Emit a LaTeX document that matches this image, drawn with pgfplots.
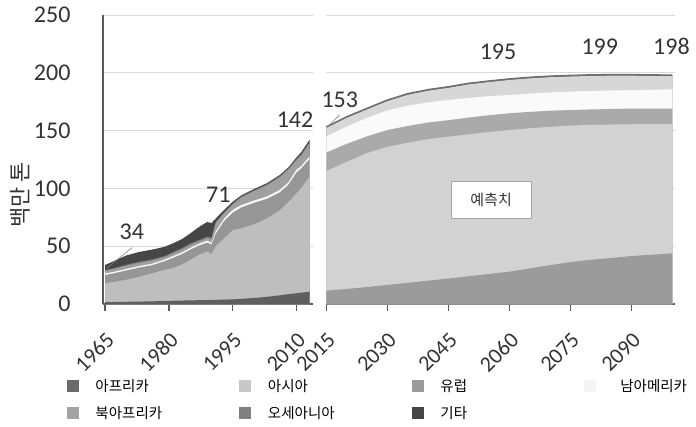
\documentclass[border=0pt]{standalone}
\usepackage{fontspec}
\setmainfont{Carlito}
\newfontfamily\kr{Noto Sans CJK KR}
\usepackage{pgfplots}
\usepackage{pgfplotstable}
\pgfplotsset{compat=1.18}

% cumulative tops of each layer, million tonnes
\pgfplotstableread{
year af as eu sa na oc tot
1965 1.5 18 25 26.3 28.5 29.3 33.7
1967 1.7 19 26.5 27.8 30.2 31 37
1970 1.9 21 29 30.3 33 34 42
1973 2.1 23.5 31.5 32.8 35.5 36.5 45
1976 2.3 26.5 33.5 34.8 37.5 38.5 47
1979 2.6 29.5 37 38.4 40.5 41.5 49.5
1981 2.8 31 40 41.5 43.8 45 52.5
1983 3 34 43 44.5 47 48.2 56
1985 3.1 38 47 48.5 51 52.2 61
1987 3.3 42.5 50.5 52 54 55.3 66.5
1989 3.4 45.5 53 54.8 57 58.3 71
1990 3.5 43 51.5 53 56 57.5 70
1991 3.6 50 61 63 70 71 74
1993 3.8 57 72 74 78.5 79.5 81.5
1995 4 64 79 81.5 86 87 88.5
1997 4.5 65.5 83.5 85.6 92 93 94
2000 5.2 69 87.5 89.5 97.5 98.5 99.5
2003 6.2 74 91 93 102.5 103.5 104.5
2006 7.5 81 96.5 98.6 109.5 110.5 111.5
2008 8.5 88 103 105 116 117 118
2010 9.3 96 114 116.5 124.5 125.5 127
2011 9.8 100 117 119 128 129.3 131
2013 10.5 110 125.5 127.5 138.5 140.3 142
}\histdata

\pgfplotstableread{
year af as eu sa na tot
2015 11.5 115 131 145 152.3 153.3
2020 13 123 138.5 153.5 161 162
2025 14.7 130.5 145 161 168.3 169.3
2030 16.5 136 150.5 167.5 175.5 176.5
2035 18.3 139.5 154 171.5 181 182
2040 20.2 142.5 157 174.5 184.5 185.5
2045 22 144.7 159 176.5 187 188
2050 24 146.8 161.3 178.3 190 191
2055 26 148.8 163.3 179.8 192 193
2060 28 150.5 165 180.8 193.8 194.8
2065 30.8 152 166.2 182 195.2 196.2
2070 33.6 153.3 167.2 183 196.2 197.2
2075 36.3 154.3 167.8 183.7 196.8 197.8
2080 38.2 155 168.3 184.3 197.3 198.3
2085 39.8 155.3 168.7 184.7 197.5 198.5
2090 41.5 155.5 169 185 197.5 198.5
2095 42.7 155.6 169 185.3 197.3 198.3
2100 43.8 155.7 169 185.7 197 198
}\projdata

\definecolor{axisgray}{HTML}{5A5A5A}
\definecolor{gridgray}{HTML}{D9D9D9}
\definecolor{txt}{HTML}{333333}
% historical panel
\definecolor{hAf}{HTML}{5F5F5F}
\definecolor{hAs}{HTML}{BEBEBE}
\definecolor{hEu}{HTML}{969696}
\definecolor{hSa}{HTML}{F8F8F8}
\definecolor{hNa}{HTML}{A0A0A0}
\definecolor{hOc}{HTML}{7D7D7D}
\definecolor{hOt}{HTML}{464646}
% projection panel
\definecolor{pAf}{HTML}{9B9B9B}
\definecolor{pAs}{HTML}{D2D2D2}
\definecolor{pEu}{HTML}{AAAAAA}
\definecolor{pSa}{HTML}{FAFAFA}
\definecolor{pNa}{HTML}{D7D7D7}
\definecolor{pOt}{HTML}{6E6E6E}
% legend
\definecolor{lAf}{HTML}{6B6B6B}
\definecolor{lAs}{HTML}{C8C8C8}
\definecolor{lEu}{HTML}{9A9A9A}
\definecolor{lSa}{HTML}{F4F4F4}
\definecolor{lNa}{HTML}{A3A3A3}
\definecolor{lOc}{HTML}{808080}
\definecolor{lOt}{HTML}{454545}

\tikzset{lbl/.style={font=\fontsize{24}{24}\selectfont, text=txt}}

\pgfplotsset{
  panel/.style={
    scale only axis, height=289pt, ymin=0, ymax=250,
    ytick={0,50,...,250}, ymajorgrids,
    grid style={line width=1pt, gridgray},
    axis lines*=left, axis line style={-, axisgray, line width=1.5pt},
    tick align=outside, major tick length=7pt,
    xtick style={axisgray, line width=1.2pt}, ytick style={draw=none},
    yticklabel style={font=\fontsize{24}{24}\selectfont, text=txt},
    xticklabel style={font=\fontsize{22}{22}\selectfont, text=txt,
      rotate=45, anchor=north east, inner sep=0pt},
    xticklabel shift=20pt,
    /pgf/number format/assume math mode=true,
    /pgf/number format/1000 sep={},
    clip=false,
  },
  lay/.style={draw=none, fill=#1, forget plot},
}

\begin{document}
\begin{tikzpicture}[x=1pt,y=1pt]
\useasboundingbox (0,0) rectangle (696,426);

\begin{axis}[panel, at={(103pt,122pt)}, anchor=south west, width=209.9pt,
  xmin=1964.53, xmax=2013.8, xtick={1965,1980,1995,2010},
  yticklabel style={xshift=-22pt},
  legend columns=4,
  legend cell align=left,
  legend image code/.code={\fill[#1, draw=none] (0pt,-0.5pt) rectangle (12pt,11.5pt);},
  legend style={at={(-0.173,-0.235)}, anchor=north west, draw=none, fill=none,
    inner sep=0pt, column sep=0pt, row sep=0pt,
    font=\kr\fontsize{14.5}{14.5}\selectfont,
    nodes={inner sep=0pt, text height=19pt, text depth=8pt, anchor=base west}}]
\addplot[lay=hOt] table[x=year,y=tot] {\histdata} \closedcycle;
\addplot[lay=hOc] table[x=year,y=oc] {\histdata} \closedcycle;
\addplot[lay=hNa] table[x=year,y=na] {\histdata} \closedcycle;
\addplot[lay=hSa] table[x=year,y=sa] {\histdata} \closedcycle;
\addplot[lay=hEu] table[x=year,y=eu] {\histdata} \closedcycle;
\addplot[lay=hAs] table[x=year,y=as] {\histdata} \closedcycle;
\addplot[lay=hAf] table[x=year,y=af] {\histdata} \closedcycle;

\addlegendimage{fill=lAf}\addlegendentry{\makebox[160.5pt][l]{\hspace{16.6pt}아프리카}}
\addlegendimage{fill=lAs}\addlegendentry{\makebox[160.5pt][l]{\hspace{16.6pt}아시아}}
\addlegendimage{fill=lEu}\addlegendentry{\makebox[160.5pt][l]{\hspace{16.6pt}유럽}}
\addlegendimage{fill=lSa}\addlegendentry{\makebox[96pt][l]{\hspace{24pt}남아메리카}}
\addlegendimage{fill=lNa}\addlegendentry{\makebox[160.5pt][l]{\hspace{16.6pt}북아프리카}}
\addlegendimage{fill=lOc}\addlegendentry{\makebox[160.5pt][l]{\hspace{16.6pt}오세아니아}}
\addlegendimage{fill=lOt}\addlegendentry{\makebox[160.5pt][l]{\hspace{16.6pt}기타}}

\draw[gray, line width=0.6pt] (axis cs:1965.4,30.9) -- (axis cs:1971.3,48.7);
\node[lbl] at (axis cs:1971.3,62.5) {34};
\node[lbl] at (axis cs:1991.6,94.3) {71};
\node[lbl] at (axis cs:2009.6,159.2) {142};
\end{axis}

\begin{axis}[panel, at={(325.5pt,122pt)}, anchor=south west, width=349.6pt,
  xmin=2014.8, xmax=2100.7, xtick={2015,2030,...,2090},
  yticklabel=\empty, y axis line style={draw=none}]
\addplot[lay=pOt] table[x=year,y=tot] {\projdata} \closedcycle;
\addplot[lay=pNa] table[x=year,y=na] {\projdata} \closedcycle;
\addplot[lay=pSa] table[x=year,y=sa] {\projdata} \closedcycle;
\addplot[lay=pEu] table[x=year,y=eu] {\projdata} \closedcycle;
\addplot[lay=pAs] table[x=year,y=as] {\projdata} \closedcycle;
\addplot[lay=pAf] table[x=year,y=af] {\projdata} \closedcycle;
\addplot[pOt, line width=1.3pt, forget plot] table[x=year,y=tot] {\projdata};

\draw[gray, line width=0.6pt] (axis cs:2015.4,153.4) -- (axis cs:2018.2,163.5);
\node[lbl] at (axis cs:2018.3,176.5) {153};
\node[lbl] at (axis cs:2057.2,218.3) {195};
\node[lbl] at (axis cs:2082.2,222.6) {199};
\node[lbl] at (axis cs:2099.8,222.6) {198};
\node[draw=gray!70, fill=white, line width=0.8pt, minimum width=80pt, minimum height=37pt,
  font=\kr\fontsize{15}{15}\selectfont, text=txt] at (axis cs:2055.5,90) {예측치};
\end{axis}

\node[rotate=90, font=\kr\fontsize{22}{22}\selectfont, text=txt] at (20,231) {백만 톤};
\end{tikzpicture}
\end{document}
